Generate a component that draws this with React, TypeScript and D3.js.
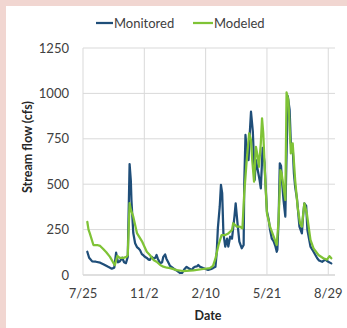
import React from "react";
import * as d3 from "d3";

const START = new Date(2012, 6, 25);
const END_DAYS = 411;
const TICK_DAYS = [0, 100, 200, 300, 400];
const Y_TICKS = [0, 250, 500, 750, 1000, 1250];

const monitoredDays = [7,10,15,21,28,34,41,47,51,54,57,60,64,67,70,73,76,78,79,82,85,88,91,93,96,98,101,104,107,109,112,115,118,120,122,126,129,131,134,136,139,142,146,150,154,158,162,165,169,173,178,180,183,186,188,191,196,201,204,208,212,216,218,220,223,225,227,229,232,235,237,240,243,247,249,252,255,259,262,263,265,267,270,272,274,277,280,282,285,288,290,293,296,298,300,303,305,308,311,314,316,317,319,321,323,325,327,330,331,334,337,339,342,344,346,349,353,357,359,361,364,366,371,376,382,385,390,395,400,405];
const monitoredFlow = [128,95,75,73,68,58,45,35,40,123,70,75,95,70,65,100,611,520,413,231,175,154,145,137,115,110,100,94,85,83,100,90,95,110,90,64,70,100,113,90,70,50,40,30,22,11,12,30,45,35,28,40,46,48,55,45,38,32,28,32,38,45,120,260,376,496,450,229,156,200,156,211,200,321,395,285,184,147,165,500,771,688,633,780,899,789,523,633,578,523,477,700,620,480,350,303,250,200,185,156,128,140,300,615,600,500,413,321,500,985,909,725,700,560,486,420,266,229,330,395,380,248,156,128,92,80,73,85,73,64];

const modeledDays = [7,9,11,17,23,28,33,38,44,49,52,56,60,66,71,73,76,78,82,88,96,104,109,115,120,126,131,137,142,153,163,180,196,207,212,216,221,226,232,237,243,245,251,256,260,263,267,271,274,276,279,282,285,287,290,292,294,297,300,305,311,316,319,322,324,327,330,332,335,339,342,346,350,354,357,361,365,371,376,384,392,398,402,405];
const modeledFlow = [293,250,231,165,165,160,143,125,100,70,55,105,94,94,100,110,396,360,321,231,187,128,110,83,73,55,46,40,38,27,22,25,33,38,50,90,165,220,220,229,248,285,266,266,257,450,633,780,743,633,514,706,651,596,725,863,780,541,340,266,211,165,303,578,560,486,413,1005,963,670,725,523,376,285,266,395,340,193,147,110,92,85,104,92];

const SERIES = [
  { name: "Monitored", days: monitoredDays, values: monitoredFlow, color: "#1f4e79" },
  { name: "Modeled", days: modeledDays, values: modeledFlow, color: "#7fc336" },
];

const W = 347, H = 328;
const M = { left: 83, right: 335, top: 48, bottom: 275 };
const FONT = "Lato, 'Open Sans', sans-serif";

const addDays = (n: number) => d3.timeDay.offset(START, n);

export default function App() {
  const x = d3.scaleTime().domain([START, addDays(END_DAYS)]).range([M.left, M.right]);
  const y = d3.scaleLinear().domain([0, 1250]).range([M.bottom, M.top]);
  const fmt = d3.timeFormat("%-m/%-d");
  const line = d3
    .line<[number, number]>()
    .x((d) => x(addDays(d[0])))
    .y((d) => y(d[1]));

  return (
    <svg width={W} height={H} style={{ position: "absolute", left: 0, top: 0 }} fontFamily={FONT}>
      <rect x={0} y={0} width={W} height={H} fill="#f1d6d1" />
      <rect x={6} y={6} width={W - 6} height={H - 6} fill="#ffffff" />
      {Y_TICKS.map((t) => (
        <g key={"y" + t}>
          <line x1={M.left} x2={M.right} y1={y(t)} y2={y(t)} stroke={t === 0 ? "#bfbfbf" : "#d9d9d9"} strokeWidth={1} />
          <text x={69} y={y(t)} dy="0.35em" textAnchor="end" fontSize={13} fill="#404040">{t}</text>
        </g>
      ))}
      {TICK_DAYS.map((d) => (
        <g key={"x" + d}>
          <line x1={x(addDays(d))} x2={x(addDays(d))} y1={M.top} y2={M.bottom} stroke="#d9d9d9" strokeWidth={1} />
          <text x={x(addDays(d))} y={298} textAnchor="middle" fontSize={13} fill="#404040">{fmt(addDays(d))}</text>
        </g>
      ))}
      {SERIES.map((s) => (
        <path
          key={s.name}
          d={line(s.days.map((d, i) => [d, s.values[i]] as [number, number])) || ""}
          fill="none"
          stroke={s.color}
          strokeWidth={2.25}
          strokeLinejoin="round"
          strokeLinecap="round"
        />
      ))}
      <text x={0} y={0} transform={`translate(32,147) rotate(-90)`} textAnchor="middle" fontSize={12.5} fontWeight="bold" fill="#262626">Stream flow (cfs)</text>
      <text x={208} y={320} textAnchor="middle" fontSize={12.5} fontWeight="bold" fill="#262626">Date</text>
      <g>
        <line x1={96} x2={113} y1={23} y2={23} stroke={SERIES[0].color} strokeWidth={2.25} />
        <text x={114} y={23} dy="0.35em" fontSize={13} fill="#404040">Monitored</text>
        <line x1={193} x2={213} y1={23} y2={23} stroke={SERIES[1].color} strokeWidth={2.25} />
        <text x={214} y={23} dy="0.35em" fontSize={13} fill="#404040">Modeled</text>
      </g>
    </svg>
  );
}
